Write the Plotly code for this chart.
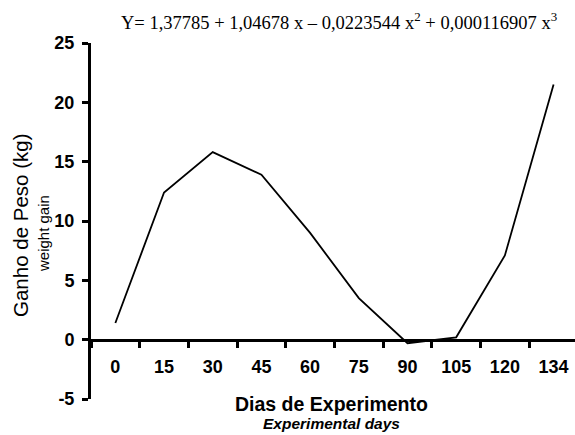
import plotly.graph_objects as go

# Data
days = ["0", "15", "30", "45", "60", "75", "90", "105", "120", "134"]
weight_gain = [1.4, 12.4, 15.8, 13.9, 9.0, 3.5, -0.3, 0.2, 7.1, 21.5]
y_ticks = [-5, 0, 5, 10, 15, 20, 25]
y_tick_labels = ["-5", "0", "5", "10", "15", "20", "25"]
equation = "Y= 1,37785 + 1,04678 x – 0,0223544 x<sup>2</sup> + 0,000116907 x<sup>3</sup>"

W, H = 575, 435
L, R, T, B = 91, 0, 43, 36
pw, ph = W - L - R, H - T - B

def px(x):
    return (x - L) / pw

def py(y):
    return (H - B - y) / ph

fig = go.Figure()
fig.add_trace(go.Scatter(
    x=days, y=weight_gain, mode="lines",
    line=dict(color="black", width=1.8),
    showlegend=False, hoverinfo="skip",
))

sans = "Liberation Sans, Arial, sans-serif"
fig.update_layout(
    width=W, height=H,
    margin=dict(l=L, r=R, t=T, b=B, pad=0),
    paper_bgcolor="white", plot_bgcolor="white",
    xaxis=dict(
        type="category", range=[-0.5, 9.44],
        anchor="free", position=5 / 30,
        showline=True, linecolor="black", linewidth=3,
        ticks="outside", tickson="boundaries", ticklen=6, tickwidth=2.5, tickcolor="black",
        ticklabelstandoff=10,
        showgrid=False, zeroline=False,
        tickfont=dict(family=sans, size=18, color="black", weight="bold"),
    ),
    yaxis=dict(
        range=[-5, 25], tickvals=y_ticks, ticktext=y_tick_labels,
        showline=True, linecolor="black", linewidth=3,
        ticks="outside", ticklen=6, tickwidth=2.5, tickcolor="black",
        ticklabelstandoff=4,
        showgrid=False, zeroline=False,
        tickfont=dict(family=sans, size=18, color="black", weight="bold"),
    ),
    annotations=[
        dict(text=equation, xref="paper", yref="paper", x=px(339), y=py(21),
             xanchor="center", yanchor="middle", showarrow=False,
             font=dict(family="Liberation Serif, Times New Roman, serif", size=18.5, color="black")),
        dict(text="Dias de Experimento", xref="paper", yref="paper", x=px(331.5), y=py(404),
             xanchor="center", yanchor="middle", showarrow=False,
             font=dict(family=sans, size=19.5, color="black", weight="bold")),
        dict(text="<i>Experimental days</i>", xref="paper", yref="paper", x=px(331.5), y=py(423),
             xanchor="center", yanchor="middle", showarrow=False,
             font=dict(family=sans, size=15.5, color="black", weight="bold")),
        dict(text="Ganho de Peso (kg)", xref="paper", yref="paper", x=px(20), y=py(226),
             xanchor="center", yanchor="middle", showarrow=False, textangle=-90,
             font=dict(family=sans, size=20.5, color="black")),
        dict(text="weight gain", xref="paper", yref="paper", x=px(44), y=py(234),
             xanchor="center", yanchor="middle", showarrow=False, textangle=-90,
             font=dict(family=sans, size=15, color="black")),
    ],
)

fig.write_html("out.html", config={"displayModeBar": False},
               post_script="document.body.style.margin='0';document.body.style.overflow='hidden';")
